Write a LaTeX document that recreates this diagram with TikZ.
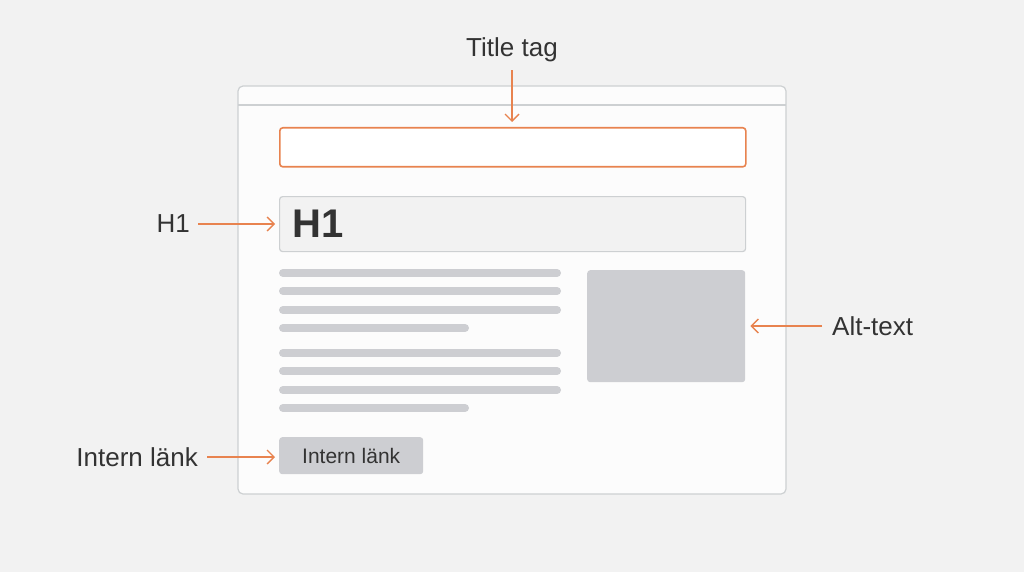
\documentclass[tikz,border=0pt]{standalone}
\usepackage{fontspec}
\setmainfont{Liberation Sans}
\usetikzlibrary{arrows.meta}
\definecolor{bg}{HTML}{F2F2F2}
\definecolor{pagefill}{HTML}{FCFCFC}
\definecolor{framec}{HTML}{CDD0D2}
\definecolor{accent}{HTML}{E8834F}
\definecolor{txt}{HTML}{333333}
\definecolor{bar}{HTML}{CDCED2}
\definecolor{hfill}{HTML}{F2F2F2}
\tikzset{
  lbl/.style={font=\fontsize{26}{30}\selectfont, text=txt, inner sep=0pt},
  callout/.style={draw=accent, line width=1.4pt, -{Straight Barb[length=7pt,width=14pt,line width=1.4pt]}},
  textbar/.style={draw=bar, line width=8pt, line cap=round},
  box/.style={rectangle, rounded corners=3pt, inner sep=0pt, anchor=north west},
}
\begin{document}
\begin{tikzpicture}[x=1pt,y=-1pt]
\fill[bg] (0,0) rectangle (1024,572);
\useasboundingbox (0,0) rectangle (1024,572);
% browser frame
\draw[framec, fill=pagefill, line width=1.2pt, rounded corners=5pt] (238,86) rectangle (786,494);
\draw[framec, line width=1.2pt] (238,105) -- (786,105);
% title box
\node[box, draw=accent, line width=1.6pt, fill=white, minimum width=466pt, minimum height=39pt] (title) at (279,127) {};
% H1 box
\node[box, draw=framec, line width=1.2pt, fill=hfill, minimum width=466pt, minimum height=55pt] (h1box) at (279,196) {};
\node[anchor=west, inner sep=0pt, font=\fontsize{40}{44}\selectfont\bfseries, text=txt] (h1txt) at (292,224) {H1};
% text bars
\draw[textbar] (283,273) -- (557,273);
\draw[textbar] (283,291) -- (557,291);
\draw[textbar] (283,310) -- (557,310);
\draw[textbar] (283,328) -- (465,328);
\draw[textbar] (283,353) -- (557,353);
\draw[textbar] (283,371) -- (557,371);
\draw[textbar] (283,390) -- (557,390);
\draw[textbar] (283,408) -- (465,408);
% image
\node[box, fill=bar, minimum width=158pt, minimum height=112pt] (img) at (587,270) {};
% button
\node[box, fill=bar, minimum width=144pt, minimum height=37pt] (btn) at (279,437) {};
\node[font=\fontsize{21}{25}\selectfont, text=txt, inner sep=0pt] (btntxt) at (btn.center) {Intern länk};
% labels
\node[lbl] (ltitle) at (512,50) {Title tag};
\node[lbl, anchor=east] (lh1) at (190,224) {H1};
\node[lbl, anchor=west] (lalt) at (832,326) {Alt-text};
\node[lbl, anchor=east] (llink) at (198,457) {Intern länk};
% callouts
\draw[callout] ([yshift=-8pt]ltitle.south) -- ([yshift=5pt]ltitle.south |- title.north);
\draw[callout] ([xshift=8pt]lh1.east) -- ([xshift=-4pt]lh1.east -| h1box.west);
\draw[callout] ([xshift=-10pt]lalt.west) -- ([xshift=5pt]lalt.west -| img.east);
\draw[callout] ([xshift=9pt]llink.east) -- ([xshift=-4pt]llink.east -| btn.west);
\end{tikzpicture}
\end{document}
